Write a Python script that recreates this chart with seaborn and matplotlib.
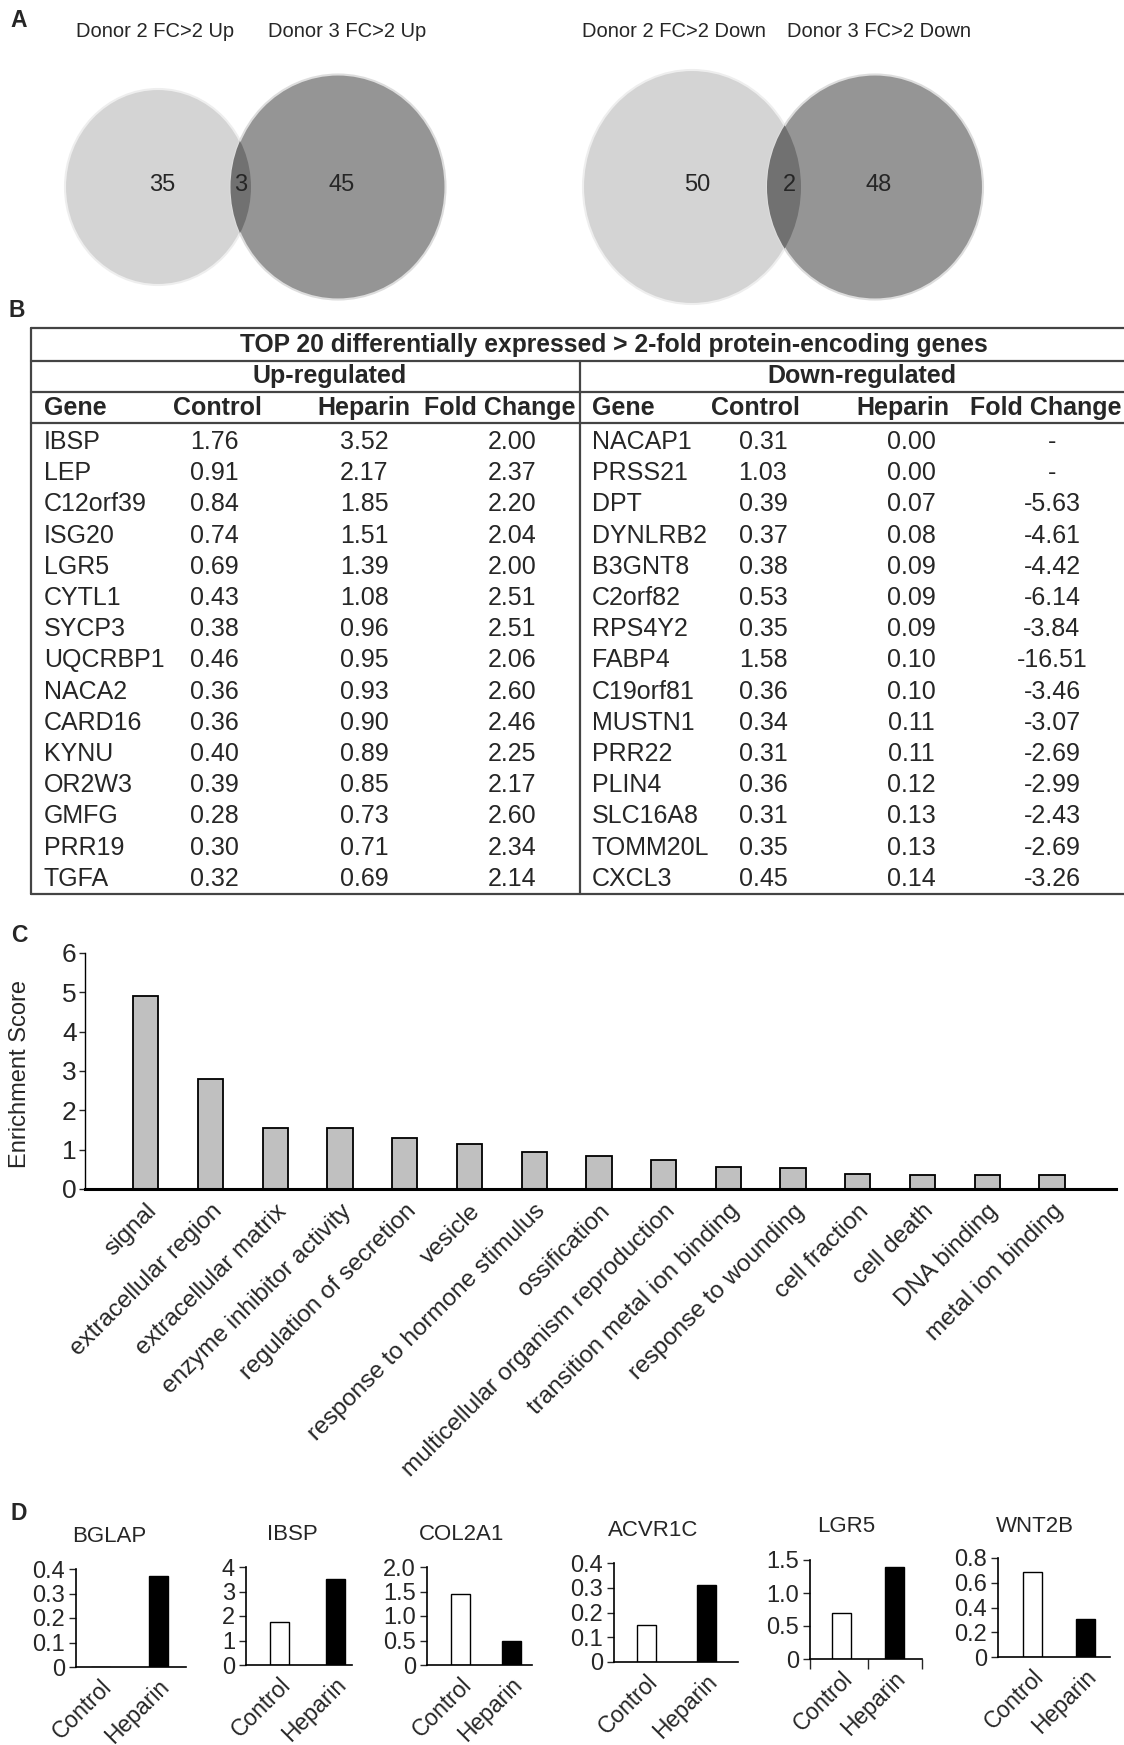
import numpy as np
import pandas as pd
import matplotlib
matplotlib.use('Agg')
import matplotlib.pyplot as plt
import seaborn as sns
from matplotlib.patches import Ellipse

sns.set_theme(style='white')
plt.rcParams['font.family'] = ['Liberation Sans', 'DejaVu Sans']

# ---- data ----
venn_up_titles = ['Donor 2 FC>2 Up', 'Donor 3 FC>2 Up']
venn_up_counts = [35, 3, 45]
venn_down_titles = ['Donor 2 FC>2 Down', 'Donor 3 FC>2 Down']
venn_down_counts = [50, 2, 48]

table_title = 'TOP 20 differentially expressed > 2-fold protein-encoding genes'
col_headers = ['Gene', 'Control', 'Heparin', 'Fold Change']
up_genes = ['IBSP', 'LEP', 'C12orf39', 'ISG20', 'LGR5', 'CYTL1', 'SYCP3', 'UQCRBP1',
            'NACA2', 'CARD16', 'KYNU', 'OR2W3', 'GMFG', 'PRR19', 'TGFA']
up_control = [1.76, 0.91, 0.84, 0.74, 0.69, 0.43, 0.38, 0.46, 0.36, 0.36, 0.40, 0.39, 0.28, 0.30, 0.32]
up_heparin = [3.52, 2.17, 1.85, 1.51, 1.39, 1.08, 0.96, 0.95, 0.93, 0.90, 0.89, 0.85, 0.73, 0.71, 0.69]
up_fold = [2.00, 2.37, 2.20, 2.04, 2.00, 2.51, 2.51, 2.06, 2.60, 2.46, 2.25, 2.17, 2.60, 2.34, 2.14]
down_genes = ['NACAP1', 'PRSS21', 'DPT', 'DYNLRB2', 'B3GNT8', 'C2orf82', 'RPS4Y2', 'FABP4',
              'C19orf81', 'MUSTN1', 'PRR22', 'PLIN4', 'SLC16A8', 'TOMM20L', 'CXCL3']
down_control = [0.31, 1.03, 0.39, 0.37, 0.38, 0.53, 0.35, 1.58, 0.36, 0.34, 0.31, 0.36, 0.31, 0.35, 0.45]
down_heparin = [0.00, 0.00, 0.07, 0.08, 0.09, 0.09, 0.09, 0.10, 0.10, 0.11, 0.11, 0.12, 0.13, 0.13, 0.14]
down_fold = [None, None, -5.63, -4.61, -4.42, -6.14, -3.84, -16.51, -3.46, -3.07, -2.69, -2.99, -2.43, -2.69, -3.26]

go_terms = ['signal', 'extracellular region', 'extracellular matrix', 'enzyme inhibitor activity',
            'regulation of secretion', 'vesicle', 'response to hormone stimulus', 'ossification',
            'multicellular organism reproduction', 'transition metal ion binding',
            'response to wounding', 'cell fraction', 'cell death', 'DNA binding', 'metal ion binding']
enrichment = [4.91, 2.80, 1.56, 1.55, 1.29, 1.15, 0.93, 0.85, 0.75, 0.56, 0.53, 0.39, 0.36, 0.36, 0.35]

conditions = ['Control', 'Heparin']
d_genes = ['BGLAP', 'IBSP', 'COL2A1', 'ACVR1C', 'LGR5', 'WNT2B']
d_control = [0.0, 1.76, 1.44, 0.15, 0.70, 0.69]
d_heparin = [0.37, 3.52, 0.48, 0.31, 1.40, 0.31]
d_ticks = [[0, 0.1, 0.2, 0.3, 0.4], [0, 1, 2, 3, 4], [0, 0.5, 1.0, 1.5, 2.0],
           [0, 0.1, 0.2, 0.3, 0.4], [0, 0.5, 1.0, 1.5], [0, 0.2, 0.4, 0.6, 0.8]]
d_ticklabels = [['0', '0.1', '0.2', '0.3', '0.4'], ['0', '1', '2', '3', '4'],
                ['0', '0.5', '1.0', '1.5', '2.0'], ['0', '0.1', '0.2', '0.3', '0.4'],
                ['0', '0.5', '1.0', '1.5'], ['0', '0.2', '0.4', '0.6', '0.8']]

# ---- figure in pixel layout ----
W, H = 1124, 1745
fig = plt.figure(figsize=(W / 100, H / 100), dpi=100)


def rect(l, t, r, b):
    return [l / W, 1 - b / H, (r - l) / W, (b - t) / H]


bg = fig.add_axes([0, 0, 1, 1])
bg.set_xlim(0, W)
bg.set_ylim(H, 0)
bg.axis('off')

for lab, (x, y) in zip('ABCD', [(19, 20), (17, 310), (19, 935), (19, 1514)]):
    bg.text(x, y, lab, fontsize=16.5, fontweight='bold', ha='center', va='center')

# ---- A: Venn diagrams ----
light, dark, overlap = '#d4d4d4', '#959595', '#717171'
venn_layout = [
    # (light ellipse), (dark ellipse), title x, number x
    ((158, 187, 186, 196), (338, 187, 215, 225), [155, 347], [162, 241, 342]),
    ((692, 187, 218, 234), (875, 187, 216, 225), [674, 879], [697, 789, 879]),
]
for (lt, dk, tx, nx), titles, counts in zip(venn_layout,
                                            [venn_up_titles, venn_down_titles],
                                            [venn_up_counts, venn_down_counts]):
    e1 = Ellipse(lt[:2], lt[2], lt[3], fc=light, ec='#eeeeee', lw=1.5)
    e2 = Ellipse(dk[:2], dk[2], dk[3], fc=dark, ec='#dddddd', lw=1.5)
    bg.add_patch(e1)
    bg.add_patch(e2)
    clip = Ellipse(lt[:2], lt[2], lt[3], transform=bg.transData)
    e3 = Ellipse(dk[:2], dk[2], dk[3], fc=overlap, ec='none')
    bg.add_patch(e3)
    e3.set_clip_path(clip)
    for t, x in zip(titles, tx):
        bg.text(x, 31, t, fontsize=14.5, ha='center', va='center')
    for c, x in zip(counts, nx):
        bg.text(x, 185, str(c), fontsize=17, ha='center', va='center')

# ---- B: table ----
lc = '#444444'
x0, xdiv, x1 = 31, 580, W
for y in [328, 361, 392, 423, 894]:
    bg.plot([x0, x1], [y, y], color=lc, lw=1.6)
bg.plot([x0, x0], [328, 894], color=lc, lw=1.6)
bg.plot([xdiv, xdiv], [361, 894], color=lc, lw=1.6)

fs = 18
bg.text(614, 345, table_title, fontsize=17.7, fontweight='bold', ha='center', va='center')
bg.text(330, 376, 'Up-regulated', fontsize=fs, fontweight='bold', ha='center', va='center')
bg.text(862, 376, 'Down-regulated', fontsize=fs, fontweight='bold', ha='center', va='center')

head_x = [[44, 217, 364, 500], [592, 755, 903, 1046]]
val_x = [[44, 214, 364, 512], [592, 763, 911, 1052]]
for hx in head_x:
    for i, (h, x) in enumerate(zip(col_headers, hx)):
        bg.text(x, 408, h, fontsize=fs, fontweight='bold',
                ha='left' if i == 0 else 'center', va='center')

row_y = 442
row_h = 31.2
for i in range(len(up_genes)):
    y = row_y + i * row_h
    up_row = [up_genes[i], f'{up_control[i]:.2f}', f'{up_heparin[i]:.2f}', f'{up_fold[i]:.2f}']
    fd = down_fold[i]
    down_row = [down_genes[i], f'{down_control[i]:.2f}', f'{down_heparin[i]:.2f}',
                '-' if fd is None else f'{fd:.2f}']
    for row, vx in zip([up_row, down_row], val_x):
        for j, (s, x) in enumerate(zip(row, vx)):
            bg.text(x, y, s, fontsize=fs, ha='left' if j == 0 else 'center', va='center')

# ---- C: enrichment bar chart ----
axc = fig.add_axes(rect(85, 953, 1116, 1189))
dfc = pd.DataFrame({'term': go_terms, 'score': enrichment})
sns.barplot(data=dfc, x='term', y='score', color='#c0c0c0', edgecolor='black',
            linewidth=1.3, width=0.39, saturation=1, ax=axc)
axc.set_xlim(-0.94, 14.99)
axc.set_ylim(0, 6)
axc.set_yticks(range(7))
axc.set_xlabel('')
axc.set_ylabel('')
axc.tick_params(axis='y', labelsize=19, length=4, width=1, direction='out', left=True, pad=2)
axc.tick_params(axis='x', length=0, pad=8)
axc.set_xticks(range(len(go_terms)))
axc.set_xticklabels(go_terms, rotation=45, ha='right', rotation_mode='anchor', fontsize=17.5)
sns.despine(ax=axc)
axc.spines['left'].set_color('black')
axc.spines['left'].set_linewidth(1)
axc.spines['bottom'].set_color('black')
axc.spines['bottom'].set_linewidth(2.2)
axc.patch.set_alpha(0)
fig.text(20 / W, 1 - 1074 / H, 'Enrichment Score', rotation=90, fontsize=17,
         ha='center', va='center')

# ---- D: qPCR mini bar charts ----
d_layout = [
    # left, right, control x, heparin x, top, bottom, title x, title y
    (76, 186, 100, 158, 1569, 1667, 109, 1536),
    (246, 352, 279, 335, 1567, 1665, 292, 1534),
    (427, 532, 460, 511, 1567, 1665, 462, 1534),
    (614, 738, 646, 706, 1563, 1662, 653, 1530),
    (810, 922, 841, 894, 1560, 1659, 846, 1527),
    (998, 1110, 1032, 1085, 1558, 1657, 1035, 1527),
]
for k, gene in enumerate(d_genes):
    l, r, cx, hx, t, b, tx, ty = d_layout[k]
    ax = fig.add_axes(rect(l, t, r, b))
    unit = hx - cx
    df = pd.DataFrame({'cond': conditions, 'val': [d_control[k], d_heparin[k]]})
    sns.barplot(data=df, x='cond', y='val', hue='cond', palette=['white', 'black'],
                edgecolor='black', linewidth=1, width=19 / unit, saturation=1,
                legend=False, ax=ax)
    xmin, xmax = -(cx - l) / unit, 1 + (r - hx) / unit
    ax.set_xlim(xmin, xmax)
    ax.set_ylim(0, d_ticks[k][-1])
    ax.set_yticks(d_ticks[k])
    ax.set_yticklabels(d_ticklabels[k])
    ax.set_xlabel('')
    ax.set_ylabel('')
    ax.tick_params(axis='y', labelsize=17, length=5, width=1, direction='out', left=True, pad=3)
    ax.tick_params(axis='x', length=0, pad=6)
    ax.set_xticks([0, 1])
    ax.set_xticklabels(conditions, rotation=45, ha='right', rotation_mode='anchor', fontsize=16.5)
    if gene == 'LGR5':
        ax.set_xticks([xmin, 0.5, xmax], minor=True)
        ax.tick_params(axis='x', which='minor', bottom=True, length=7, width=1, direction='out')
    sns.despine(ax=ax)
    for s in ['left', 'bottom']:
        ax.spines[s].set_color('black')
        ax.spines[s].set_linewidth(1.2)
    ax.patch.set_alpha(0)
    fig.text(tx / W, 1 - ty / H, gene, fontsize=16, ha='center', va='center')

fig.savefig('out.png', dpi=100)
